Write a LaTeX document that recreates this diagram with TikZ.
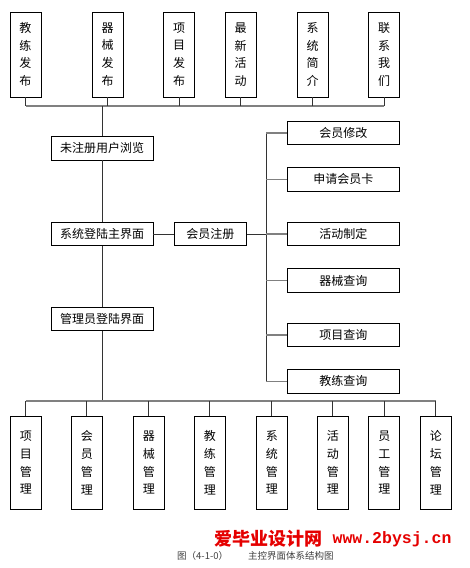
\documentclass[tikz,border=0pt]{standalone}
\usepackage{fontspec}
\setmainfont{Noto Sans CJK SC}
\newfontfamily\webfont{Liberation Mono}
\usetikzlibrary{positioning, calc}

\begin{document}
\begin{tikzpicture}[x=1pt, y=-1pt,
  %% Node styles
  vblock/.style ={draw, line width=0.8pt, minimum width=31pt, inner sep=0pt,
                  align=center, font=\fontsize{12}{17.7}\selectfont},
  hblock/.style ={draw, line width=0.8pt, minimum height=23.5pt, inner sep=0pt,
                  align=center, font=\fontsize{12}{14}\selectfont},
  %% Lines
  bus/.style  ={line width=1.6pt, black!50},
  stub/.style ={line width=0.8pt, black!80},
  %% Bottom texts
  wmark/.style ={inner sep=0pt, text=red!90!black, font=\bfseries\fontsize{18}{18}\selectfont},
  capt/.style  ={inner sep=0pt, text=black!75, font=\fontsize{9.5}{10}\selectfont}
]
\useasboundingbox (0,0) rectangle (470,568);

%% ── TOP ROW: PUBLIC PAGES ─────────────────────────────────────
\node[vblock, minimum height=85pt] (coachpub) at (25.5, 54.5) {教\\练\\发\\布};
\node[vblock, minimum height=85pt] (equippub) at (107.5,54.5) {器\\械\\发\\布};
\node[vblock, minimum height=85pt] (itempub)  at (179,  54.5) {项\\目\\发\\布};
\node[vblock, minimum height=85pt] (newsact)  at (240.5,54.5) {最\\新\\活\\动};
\node[vblock, minimum height=85pt] (sysintro) at (312.5,54.5) {系\\统\\简\\介};
\node[vblock, minimum height=85pt] (contact)  at (384,  54.5) {联\\系\\我\\们};

\coordinate (tbus) at (102, 106);
\draw[bus] (coachpub.south |- tbus) -- (contact.south |- tbus);
\draw[stub] (coachpub.south) -- (coachpub.south |- tbus);
\draw[stub] (equippub.south) -- (equippub.south |- tbus);
\draw[stub] (itempub.south)  -- (itempub.south |- tbus);
\draw[stub] (newsact.south)  -- (newsact.south |- tbus);
\draw[stub] (sysintro.south) -- (sysintro.south |- tbus);
\draw[stub] (contact.south)  -- (contact.south |- tbus);

%% ── MAIN TRUNK ───────────────────────────────────────────────
\node[hblock, minimum width=102pt] (guest) at (102, 148.3) {未注册用户浏览};
\node[hblock, minimum width=102pt] (login) at (102, 234)   {系统登陆主界面};
\node[hblock, minimum width=102pt] (admin) at (102, 318.8) {管理员登陆界面};
\node[hblock, minimum width=72pt]  (reg)   at (210.3, 234) {会员注册};

\draw[stub] (tbus)  -- (guest.north);
\draw[stub] (guest) -- (login);
\draw[stub] (login) -- (admin);
\draw[stub] (login) -- (reg);

%% ── MEMBER FUNCTIONS ─────────────────────────────────────────
\node[hblock, minimum width=112pt] (mmod) at (343.3, 133)   {会员修改};
\node[hblock, minimum width=112pt] (card) at (343.3, 179.3) {申请会员卡};
\node[hblock, minimum width=112pt] (actq) at (343.3, 234)   {活动制定};
\node[hblock, minimum width=112pt] (eqq)  at (343.3, 280.5) {器械查询};
\node[hblock, minimum width=112pt] (itq)  at (343.3, 335)   {项目查询};
\node[hblock, minimum width=112pt] (coq)  at (343.3, 381.3) {教练查询};

\coordinate (rbus) at (266.3, 234);
\draw[stub] (reg) -- (rbus);
\draw[stub] (rbus |- mmod.west) -- (rbus |- coq.west);
\draw[bus] (rbus |- mmod.west) -- (mmod.west);
\draw[bus] (rbus |- card.west) -- (card.west);
\draw[bus] (rbus)              -- (actq.west);
\draw[bus] (rbus |- eqq.west)  -- (eqq.west);
\draw[bus] (rbus |- itq.west)  -- (itq.west);
\draw[bus] (rbus |- coq.west)  -- (coq.west);

%% ── BOTTOM ROW: ADMIN MODULES ────────────────────────────────
\node[vblock, minimum height=93pt] (itmgr)    at (25.8, 462.7)  {项\\目\\管\\理};
\node[vblock, minimum height=93pt] (memmgr)   at (86.8, 462.7)  {会\\员\\管\\理};
\node[vblock, minimum height=93pt] (eqmgr)    at (148.8, 462.7) {器\\械\\管\\理};
\node[vblock, minimum height=93pt] (comgr)    at (209.8, 462.7) {教\\练\\管\\理};
\node[vblock, minimum height=93pt] (sysmgr)   at (271.8, 462.7) {系\\统\\管\\理};
\node[vblock, minimum height=93pt] (actmgr)   at (332.8, 462.7) {活\\动\\管\\理};
\node[vblock, minimum height=93pt] (staffmgr) at (384.3, 462.7) {员\\工\\管\\理};
\node[vblock, minimum height=93pt] (forummgr) at (435.8, 462.7) {论\\坛\\管\\理};

\coordinate (bbus) at (102, 400.7);
\draw[stub] (admin.south) -- (bbus);
\draw[bus] (itmgr.north |- bbus) -- (forummgr.north |- bbus);
\draw[stub] (itmgr.north)    -- (itmgr.north |- bbus);
\draw[stub] (memmgr.north)   -- (memmgr.north |- bbus);
\draw[stub] (eqmgr.north)    -- (eqmgr.north |- bbus);
\draw[stub] (comgr.north)    -- (comgr.north |- bbus);
\draw[stub] (sysmgr.north)   -- (sysmgr.north |- bbus);
\draw[stub] (actmgr.north)   -- (actmgr.north |- bbus);
\draw[stub] (staffmgr.north) -- (staffmgr.north |- bbus);
\draw[stub] (forummgr.north) -- (forummgr.north |- bbus);

%% ── WATERMARK AND CAPTION ────────────────────────────────────
\node[wmark, anchor=west] (site) at (214, 539) {爱毕业设计网};
\node[wmark, anchor=west, font=\webfont\bfseries\fontsize{16.5}{18}\selectfont,
      right=10pt of site] (url) {www.2bysj.cn};
\node[capt, anchor=west] (cap) at (177, 556) {图（4-1-0）\hspace{20pt}主控界面体系结构图};

\end{tikzpicture}
\end{document}
